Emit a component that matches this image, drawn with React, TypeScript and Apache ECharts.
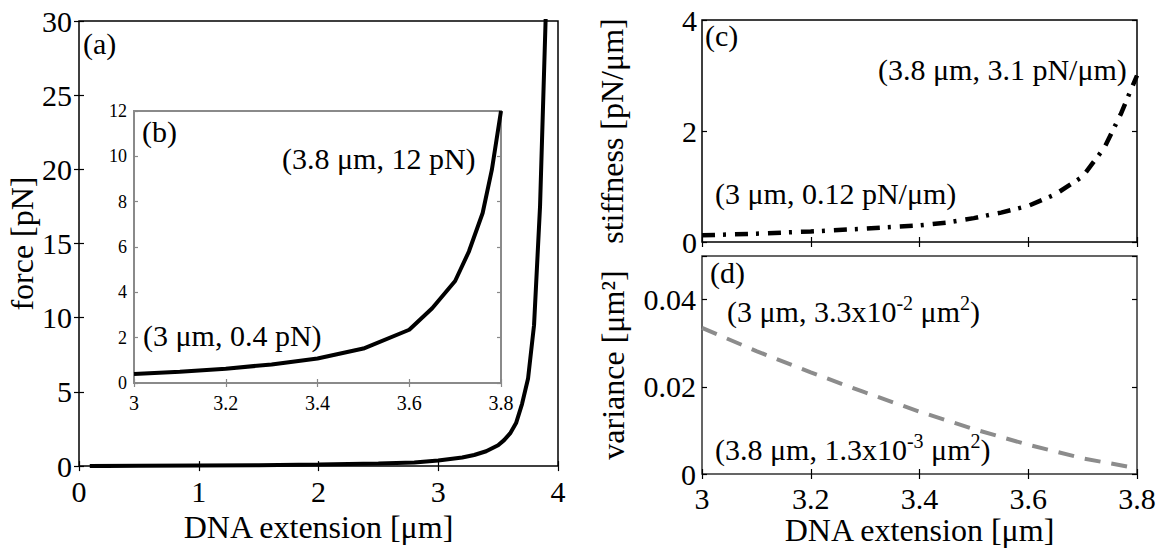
import React, { useEffect, useRef } from 'react';
import * as echarts from 'echarts';

// ---- data ----
// (a) force vs DNA extension (full range)
const forceX = [0.09, 0.5, 1.0, 1.5, 2.0, 2.5, 2.8, 3.0, 3.2, 3.3, 3.4, 3.5, 3.55, 3.6, 3.65, 3.7, 3.75, 3.8, 3.85, 3.9];
const forceY = [0.0, 0.02, 0.04, 0.06, 0.1, 0.17, 0.25, 0.38, 0.58, 0.75, 1.0, 1.4, 1.75, 2.2, 2.9, 4.2, 5.9, 9.5, 17.5, 31];
// (b) inset: force between 3 and 3.8 um
const insetX = [3.0, 3.1, 3.2, 3.3, 3.4, 3.5, 3.6, 3.65, 3.7, 3.73, 3.76, 3.78, 3.8];
const insetY = [0.4, 0.5, 0.63, 0.82, 1.08, 1.52, 2.35, 3.3, 4.5, 5.8, 7.5, 9.4, 12];
// (c) stiffness
const stiffX = [3.0, 3.1, 3.2, 3.3, 3.4, 3.45, 3.5, 3.55, 3.6, 3.65, 3.7, 3.74, 3.77, 3.8];
const stiffY = [0.12, 0.15, 0.19, 0.24, 0.3, 0.35, 0.43, 0.53, 0.65, 0.86, 1.18, 1.7, 2.3, 3.0];
// (d) variance
const varX = [3.0, 3.1, 3.2, 3.3, 3.4, 3.5, 3.6, 3.7, 3.8];
const varY = [0.0335, 0.0282, 0.0233, 0.0187, 0.0143, 0.0103, 0.0067, 0.0036, 0.0013];

// axis ranges [min, max, interval]
const aXRange = [0, 4, 1];
const aYRange = [0, 30, 5];
const bXRange = [3, 3.8, 0.2];
const bYRange = [0, 12, 2];
const cdXRange = [3, 3.8, 0.2];
const cYRange = [0, 4, 2];
const dYRange = [0, 0.05, 0.02];

const xName = 'DNA extension [μm]';
const aYName = 'force [pN]';
const cYName = 'stiffness [pN/μm]';
const dYName = 'variance [μm²]';

// annotation texts: [normal, superscript, normal, superscript, ...]
const annD1 = ['(3 μm, 3.3x10', '-2', ' μm', '2', ')'];
const annD2 = ['(3.8 μm, 1.3x10', '-3', ' μm', '2', ')'];

const FONT = 'Liberation Serif';

export default function App() {
  const ref = useRef<HTMLDivElement>(null);

  useEffect(() => {
    const chart = echarts.init(ref.current!, null, { renderer: 'svg' });
    const pts = (xs: number[], ys: number[]) => xs.map((x, i) => [x, ys[i]]);

    const tick = (color: string, len: number) => ({
      show: true,
      inside: true,
      length: len,
      lineStyle: { color, width: 1.2 },
    });

    const axis = (o: any) => {
      const [min, max, interval] = o.range;
      const label: any = {
        show: !!o.label,
        fontFamily: FONT,
        fontSize: o.labelSize || 30,
        color: '#000',
        margin: o.margin ?? 8,
      };
      if (o.formatter) label.formatter = o.formatter;
      const ax: any = {
        type: 'value',
        gridIndex: o.grid,
        position: o.position,
        min,
        max,
        interval,
        axisLine: { show: false },
        splitLine: { show: false },
        axisTick: tick(o.tickColor || '#000', o.tickLen || 5),
        axisLabel: label,
      };
      if (o.name) {
        ax.name = o.name;
        ax.nameLocation = 'middle';
        ax.nameGap = o.nameGap;
        ax.nameTextStyle = { fontFamily: FONT, fontSize: 32, color: '#000' };
      }
      return ax;
    };

    const xAxis = [
      axis({ grid: 0, position: 'bottom', range: aXRange, label: true, margin: 10, name: xName, nameGap: 35 }),
      axis({ grid: 0, position: 'top', range: aXRange }),
      axis({ grid: 1, position: 'bottom', range: bXRange, label: true, labelSize: 20, margin: 10, tickColor: '#888', tickLen: 4 }),
      axis({ grid: 1, position: 'top', range: bXRange, tickColor: '#888', tickLen: 4 }),
      axis({ grid: 2, position: 'bottom', range: cdXRange }),
      axis({ grid: 2, position: 'top', range: cdXRange }),
      axis({ grid: 3, position: 'bottom', range: cdXRange, label: true, margin: 9, name: xName, nameGap: 37 }),
      axis({ grid: 3, position: 'top', range: cdXRange }),
    ];
    const yAxis = [
      axis({ grid: 0, position: 'left', range: aYRange, label: true, margin: 7, name: aYName, nameGap: 34 }),
      axis({ grid: 0, position: 'right', range: aYRange }),
      axis({ grid: 1, position: 'left', range: bYRange, label: true, labelSize: 18, margin: 7, tickColor: '#888', tickLen: 4 }),
      axis({ grid: 1, position: 'right', range: bYRange, tickColor: '#888', tickLen: 4 }),
      axis({ grid: 2, position: 'left', range: cYRange, label: true, margin: 5, name: cYName, nameGap: 74 }),
      axis({ grid: 2, position: 'right', range: cYRange }),
      axis({
        grid: 3, position: 'left', range: dYRange, label: true, margin: 6, name: dYName, nameGap: 73,
        formatter: (v: number) => (v > 0.045 ? '' : String(v)),
      }),
      axis({ grid: 3, position: 'right', range: dYRange }),
    ];

    // text placed with its top at y (default top alignment); y given as centre
    const ann = (x: number, yCenter: number, text: string, size = 30) => ({
      type: 'text',
      x,
      y: yCenter - size / 2,
      style: { text, fontFamily: FONT, fontSize: size, fill: '#000' },
    });

    // measure widths for the texts with superscripts
    const ctx = document.createElement('canvas').getContext('2d')!;
    const measure = (t: string, size: number) => {
      ctx.font = `${size}px ${FONT}`;
      return ctx.measureText(t).width;
    };
    const supText = (x: number, y: number, parts: string[]) => {
      const out: any[] = [];
      let cx = x;
      parts.forEach((p, i) => {
        const sup = i % 2 === 1;
        const size = sup ? 20 : 30;
        out.push(ann(cx, sup ? y - 8 : y, p, size));
        cx += measure(p, size);
      });
      return out;
    };

    chart.setOption({
      animation: false,
      grid: [
        { left: 79, top: 21, width: 479, height: 456, show: true, borderColor: '#000', borderWidth: 1.5, backgroundColor: 'transparent' },
        { left: 134, top: 111, width: 367, height: 272, show: true, borderColor: '#8a8a8a', borderWidth: 2, backgroundColor: '#fff' },
        { left: 702, top: 20, width: 435, height: 222, show: true, borderColor: '#000', borderWidth: 1.5, backgroundColor: 'transparent' },
        { left: 702, top: 256, width: 435, height: 218, show: true, borderColor: '#333', borderWidth: 1.5, backgroundColor: 'transparent' },
      ],
      xAxis,
      yAxis,
      series: [
        {
          type: 'line', xAxisIndex: 0, yAxisIndex: 0, data: pts(forceX, forceY),
          showSymbol: false, lineStyle: { color: '#000', width: 4 }, clip: true,
        },
        {
          type: 'line', xAxisIndex: 2, yAxisIndex: 2, data: pts(insetX, insetY),
          showSymbol: false, lineStyle: { color: '#000', width: 4 }, clip: true, z: 5,
        },
        {
          type: 'line', xAxisIndex: 4, yAxisIndex: 4, data: pts(stiffX, stiffY),
          showSymbol: false, lineStyle: { color: '#000', width: 4.5, type: [13, 8, 3, 9] },
        },
        {
          type: 'line', xAxisIndex: 6, yAxisIndex: 6, data: pts(varX, varY),
          showSymbol: false, lineStyle: { color: '#8c8c8c', width: 4, type: [16, 11] },
        },
      ],
      graphic: [
        ann(83, 43, '(a)'),
        ann(142, 131, '(b)'),
        ann(282, 158, '(3.8 μm, 12 pN)'),
        ann(143, 335, '(3 μm, 0.4 pN)'),
        ann(705, 35, '(c)'),
        ann(878, 69, '(3.8 μm, 3.1 pN/μm)'),
        ann(715, 193, '(3 μm, 0.12 pN/μm)'),
        ann(710, 272, '(d)'),
        ...supText(727, 311, annD1),
        ...supText(715, 449, annD2),
      ],
    });

    return () => chart.dispose();
  }, []);

  return (
    <div
      ref={ref}
      style={{ position: 'absolute', left: 0, top: 0, width: 1167, height: 548 }}
    />
  );
}
